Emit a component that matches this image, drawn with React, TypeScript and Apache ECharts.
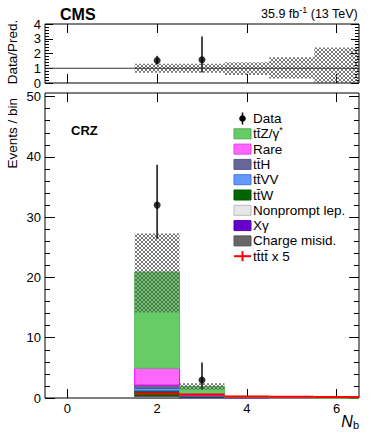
import React, { useEffect, useRef } from "react";
import * as echarts from "echarts";

// ---------- data ----------
const bins = [0, 1, 2, 3, 4, 5, 6];
const chargeMisid = [0, 0, 0.1, 0.01, 0, 0, 0];
const xGamma = [0, 0, 0.05, 0.01, 0, 0, 0];
const nonprompt = [0, 0, 0.15, 0.05, 0.01, 0, 0];
const ttW = [0, 0, 0.9, 0.15, 0.02, 0, 0];
const ttVV = [0, 0, 0.4, 0.08, 0.01, 0, 0];
const ttH = [0, 0, 0.55, 0.1, 0.01, 0, 0];
const rare = [0, 0, 2.8, 0.25, 0.03, 0.01, 0];
const ttZ = [0, 0, 15.95, 1.25, 0.09, 0.02, 0.01];

const uncLo = [null, null, 14.2, 1.35, 0.09, 0.01, 0];
const uncHi = [null, null, 27.3, 2.45, 0.24, 0.05, 0.02];

const tttt5 = [null, null, 0.6, 0.4, 0.1, 0.03, 0.01];

const dataX = [2, 3];
const dataY = [32, 3];
const dataLo = [26.4, 1.4];
const dataHi = [38.7, 5.9];

const ratioY = [1.52, 1.58];
const ratioLo = [1.25, 0.72];
const ratioHi = [1.84, 3.15];
const ratioBandLo = [null, null, 0.7, 0.7, 0.55, 0.3, 0];
const ratioBandHi = [null, null, 1.3, 1.3, 1.4, 1.75, 2.4];

const xTicks = [0, 2, 4, 6];
const mainYMajor = [0, 10, 20, 30, 40, 50];
const mainYMinor = [2, 4, 6, 8, 12, 14, 16, 18, 22, 24, 26, 28, 32, 34, 36, 38, 42, 44, 46, 48];
const ratioYMajor = [0, 1, 2, 3, 4];
const ratioYMinor = [0.2, 0.4, 0.6, 0.8, 1.2, 1.4, 1.6, 1.8, 2.2, 2.4, 2.6, 2.8, 3.2, 3.4, 3.6, 3.8];

const X_MIN = -0.5;
const X_MAX = 6.5;
const MAIN_Y_MAX = 50.6;
const RATIO_Y_MAX = 4;

const FONT = "'Liberation Sans', Arial, Helvetica, sans-serif";

const stackDefs = [
  { name: "Charge misid.", values: chargeMisid, fill: "#666666", stroke: "#555555" },
  { name: "Xγ", values: xGamma, fill: "#6600cc", stroke: "#5500aa" },
  { name: "Nonprompt lep.", values: nonprompt, fill: "#e6e6e6", stroke: "#bbbbbb" },
  { name: "tt̄W", values: ttW, fill: "#006600", stroke: "#005500" },
  { name: "tt̄VV", values: ttVV, fill: "#6699ff", stroke: "#3366ff" },
  { name: "tt̄H", values: ttH, fill: "#666699", stroke: "#555588" },
  { name: "Rare", values: rare, fill: "#ff66ff", stroke: "#ff00ff" },
  { name: "tt̄Z/γ*", values: ttZ, fill: "#66cc66", stroke: "#55bb55" },
];

const legendRows = [
  { label: "Data", kind: "data" },
  { label: "{m|tt̄Z/γ}{s|*}", kind: "box", fill: "#66cc66", stroke: "#55aa55" },
  { label: "Rare", kind: "box", fill: "#ff66ff", stroke: "#dd44dd" },
  { label: "tt̄H", kind: "box", fill: "#666699", stroke: "#555588" },
  { label: "tt̄VV", kind: "box", fill: "#6699ff", stroke: "#4477dd" },
  { label: "tt̄W", kind: "box", fill: "#006600", stroke: "#005500" },
  { label: "Nonprompt lep.", kind: "box", fill: "#e6e6e6", stroke: "#bbbbbb" },
  { label: "Xγ", kind: "box", fill: "#6600cc", stroke: "#5500aa" },
  { label: "Charge misid.", kind: "box", fill: "#666666", stroke: "#555555" },
  { label: "tt̄tt̄ x 5", kind: "line" },
];

function makeHatch() {
  const c = document.createElement("canvas");
  c.width = 4;
  c.height = 4;
  const ctx = c.getContext("2d");
  if (ctx) {
    ctx.fillStyle = "rgba(85,85,85,0.8)";
    for (let i = 0; i < 4; i++) {
      ctx.fillRect(i, i, 1, 1);
      ctx.fillRect(3 - i, i, 1, 1);
    }
  }
  return { image: c, repeat: "repeat", imageWidth: 4, imageHeight: 4 } as any;
}

function measure(text: string, size: number) {
  const c = document.createElement("canvas");
  const ctx = c.getContext("2d");
  if (!ctx) return text.length * size * 0.55;
  ctx.font = `${size}px ${FONT}`;
  return ctx.measureText(text).width;
}

function rectItem(fill: any, stroke: any, lineWidth = 1) {
  return (params: any, api: any) => {
    const x = api.value(0);
    const y0 = api.value(1);
    const y1 = api.value(2);
    const p0 = api.coord([x - 0.5, y0]);
    const p1 = api.coord([x + 0.5, y1]);
    return {
      type: "rect",
      shape: { x: p0[0], y: p1[1], width: p1[0] - p0[0], height: p0[1] - p1[1] },
      style: { fill, stroke, lineWidth },
    };
  };
}

function errItem(color: string, width: number) {
  return (params: any, api: any) => {
    const x = api.value(0);
    const a = api.coord([x, api.value(1)]);
    const b = api.coord([x, api.value(2)]);
    return {
      type: "line",
      shape: { x1: a[0], y1: a[1], x2: b[0], y2: b[1] },
      style: { stroke: color, lineWidth: width },
    };
  };
}

function xAxisDef(gridIndex: number, position: string, labels: boolean) {
  return {
    type: "value",
    gridIndex,
    position,
    min: X_MIN,
    max: X_MAX,
    axisLine: { show: false, onZero: false },
    splitLine: { show: false },
    axisTick: {
      show: true,
      inside: true,
      length: 9,
      customValues: xTicks,
      lineStyle: { color: "#000", width: 1 },
    },
    axisLabel: labels
      ? {
          show: true,
          customValues: xTicks,
          fontFamily: FONT,
          fontSize: 13,
          color: "#000",
          margin: 4,
        }
      : { show: false },
  };
}

function yAxisDef(
  gridIndex: number,
  position: string,
  max: number,
  ticks: number[],
  len: number,
  labels: boolean
) {
  return {
    type: "value",
    gridIndex,
    position,
    min: 0,
    max,
    axisLine: { show: false, onZero: false },
    splitLine: { show: false },
    axisTick: {
      show: true,
      inside: true,
      length: len,
      customValues: ticks,
      lineStyle: { color: "#000", width: 1 },
    },
    axisLabel: labels
      ? {
          show: true,
          customValues: ticks,
          fontFamily: FONT,
          fontSize: 13,
          color: "#000",
          margin: 4,
        }
      : { show: false },
  };
}

export default function App() {
  const ref = useRef<HTMLDivElement>(null);

  useEffect(() => {
    if (!ref.current) return;
    const chart = echarts.init(ref.current, null, { renderer: "svg" });
    const hatch = makeHatch();

    // stacked series
    const base = bins.map(() => 0);
    const stackSeries = stackDefs.map((d, k) => {
      const items: number[][] = [];
      bins.forEach((b, i) => {
        const v = d.values[i];
        if (v > 0) items.push([b, base[i], base[i] + v]);
        base[i] += v;
      });
      return {
        type: "custom",
        name: d.name,
        xAxisIndex: 2,
        yAxisIndex: 4,
        z: 2 + k * 0.01,
        renderItem: rectItem(d.fill, d.stroke, 1),
        encode: { x: 0, y: [1, 2] },
        data: items,
      };
    });

    const uncData = bins
      .map((b, i) => [b, uncLo[i], uncHi[i]])
      .filter((d) => d[1] !== null);
    const ratioBandData = bins
      .map((b, i) => [b, ratioBandLo[i], ratioBandHi[i]])
      .filter((d) => d[1] !== null);
    const tttData = bins.map((b, i) => [b, tttt5[i]]).filter((d) => d[1] !== null);

    const graphics: any[] = [];
    graphics.push({
      type: "text",
      x: 60,
      y: 14,
      style: { text: "CMS", fontFamily: FONT, fontSize: 16, fontWeight: "bold", fill: "#000", verticalAlign: "middle" },
    });

    // lumi label, laid out from measured widths
    const HS = 12.5;
    const SS = 9;
    const t3 = " (13 TeV)";
    const t2 = "-1";
    const t1 = "35.9 fb";
    const w3 = measure(t3, HS);
    const w2 = measure(t2, SS);
    const xr = 358;
    const x3 = xr - w3;
    const x2 = x3 - w2;
    graphics.push({
      type: "text",
      x: x3,
      y: 14,
      style: { text: t3, fontFamily: FONT, fontSize: HS, fill: "#000", verticalAlign: "middle" },
    });
    graphics.push({
      type: "text",
      x: x2,
      y: 10,
      style: { text: t2, fontFamily: FONT, fontSize: SS, fill: "#000", verticalAlign: "middle" },
    });
    graphics.push({
      type: "text",
      x: x2,
      y: 14,
      style: { text: t1, fontFamily: FONT, fontSize: HS, fill: "#000", align: "right", verticalAlign: "middle" },
    });

    graphics.push({
      type: "text",
      x: 12,
      y: 52,
      rotation: Math.PI / 2,
      style: { text: "Data/Pred.", fontFamily: FONT, fontSize: 13.5, fill: "#000", align: "center", verticalAlign: "middle" },
    });
    graphics.push({
      type: "text",
      x: 12,
      y: 98,
      rotation: Math.PI / 2,
      style: { text: "Events / bin", fontFamily: FONT, fontSize: 13.5, fill: "#000", align: "right", verticalAlign: "middle" },
    });
    graphics.push({
      type: "text",
      x: 71,
      y: 130,
      style: { text: "CRZ", fontFamily: FONT, fontSize: 13, fontWeight: "bold", fill: "#000", verticalAlign: "middle" },
    });
    const wb = measure("b", 11);
    graphics.push({
      type: "text",
      x: 359 - wb,
      y: 421,
      style: { text: "N", fontFamily: FONT, fontSize: 16, fontStyle: "italic", fill: "#000", align: "right", verticalAlign: "middle" },
    });
    graphics.push({
      type: "text",
      x: 359 - wb,
      y: 425,
      style: { text: "b", fontFamily: FONT, fontSize: 11, fill: "#000", verticalAlign: "middle" },
    });

    // legend
    const LX = 234;
    const LW = 17;
    const LY0 = 118.5;
    const LDY = 15.3;
    legendRows.forEach((r: any, i) => {
      const cy = LY0 + i * LDY;
      if (r.kind === "box") {
        graphics.push({
          type: "rect",
          shape: { x: LX, y: cy - 5, width: LW, height: 10 },
          style: { fill: r.fill, stroke: r.stroke, lineWidth: 1 },
        });
      } else if (r.kind === "data") {
        graphics.push({
          type: "line",
          shape: { x1: LX + LW / 2, y1: cy - 6, x2: LX + LW / 2, y2: cy + 6 },
          style: { stroke: "#000", lineWidth: 1.5 },
        });
        graphics.push({
          type: "circle",
          shape: { cx: LX + LW / 2, cy, r: 3.3 },
          style: { fill: "#000" },
        });
      } else {
        graphics.push({
          type: "line",
          shape: { x1: LX, y1: cy, x2: LX + LW, y2: cy },
          style: { stroke: "#ff0000", lineWidth: 2 },
        });
        graphics.push({
          type: "line",
          shape: { x1: LX + LW / 2, y1: cy - 5, x2: LX + LW / 2, y2: cy + 5 },
          style: { stroke: "#ff0000", lineWidth: 2 },
        });
      }
      graphics.push({
        type: "text",
        x: 253,
        y: cy,
        style: {
          text: r.label,
          fontFamily: FONT,
          fontSize: 13.5,
          fill: "#000",
          verticalAlign: "middle",
          rich: {
            m: { fontFamily: FONT, fontSize: 13.5, lineHeight: 16, fill: "#000" },
            s: { fontFamily: FONT, fontSize: 9, lineHeight: 9, verticalAlign: "top", fill: "#000" },
          },
        },
      });
    });

    const option: any = {
      animation: false,
      backgroundColor: "#fff",
      grid: [
        { left: 45, top: 24, width: 314, height: 59, show: true, borderColor: "#000", borderWidth: 1, backgroundColor: "transparent", containLabel: false, outerBoundsMode: "none" },
        { left: 45, top: 93, width: 314, height: 305, show: true, borderColor: "#000", borderWidth: 1, backgroundColor: "transparent", containLabel: false, outerBoundsMode: "none" },
      ],
      xAxis: [
        xAxisDef(0, "bottom", false),
        xAxisDef(0, "top", false),
        xAxisDef(1, "bottom", true),
        xAxisDef(1, "top", false),
      ],
      yAxis: [
        yAxisDef(0, "left", RATIO_Y_MAX, ratioYMajor, 8, true),
        yAxisDef(0, "left", RATIO_Y_MAX, ratioYMinor, 4, false),
        yAxisDef(0, "right", RATIO_Y_MAX, ratioYMajor, 8, false),
        yAxisDef(0, "right", RATIO_Y_MAX, ratioYMinor, 4, false),
        yAxisDef(1, "left", MAIN_Y_MAX, mainYMajor, 10, true),
        yAxisDef(1, "left", MAIN_Y_MAX, mainYMinor, 5, false),
        yAxisDef(1, "right", MAIN_Y_MAX, mainYMajor, 10, false),
        yAxisDef(1, "right", MAIN_Y_MAX, mainYMinor, 5, false),
      ],
      series: [
        // ratio panel
        {
          type: "custom",
          xAxisIndex: 0,
          yAxisIndex: 0,
          z: 2,
          renderItem: rectItem(hatch, "none", 0),
          encode: { x: 0, y: [1, 2] },
          data: ratioBandData,
        },
        {
          type: "line",
          xAxisIndex: 0,
          yAxisIndex: 0,
          z: 3,
          symbol: "none",
          lineStyle: { color: "#333", width: 1 },
          data: [
            [X_MIN, 1],
            [X_MAX, 1],
          ],
        },
        {
          type: "custom",
          xAxisIndex: 0,
          yAxisIndex: 0,
          z: 4,
          renderItem: errItem("#333", 1.8),
          encode: { x: 0, y: [1, 2] },
          data: dataX.map((x, i) => [x, ratioLo[i], ratioHi[i]]),
        },
        {
          type: "scatter",
          xAxisIndex: 0,
          yAxisIndex: 0,
          z: 5,
          symbol: "circle",
          symbolSize: 7,
          itemStyle: { color: "#000" },
          data: dataX.map((x, i) => [x, ratioY[i]]),
        },
        // main panel
        ...stackSeries,
        {
          type: "custom",
          xAxisIndex: 2,
          yAxisIndex: 4,
          z: 3,
          renderItem: rectItem(hatch, "none", 0),
          encode: { x: 0, y: [1, 2] },
          data: uncData,
        },
        {
          type: "custom",
          xAxisIndex: 2,
          yAxisIndex: 4,
          z: 4,
          renderItem: (params: any, api: any) => {
            const x = api.value(0);
            const v = api.value(1);
            const a = api.coord([x - 0.5, v]);
            const b = api.coord([x + 0.5, v]);
            return {
              type: "line",
              shape: { x1: a[0], y1: a[1] - 1, x2: b[0], y2: b[1] - 1 },
              style: { stroke: "#ff0000", lineWidth: 2 },
            };
          },
          encode: { x: 0, y: 1 },
          data: tttData,
        },
        {
          type: "custom",
          xAxisIndex: 2,
          yAxisIndex: 4,
          z: 5,
          renderItem: errItem("#333", 1.8),
          encode: { x: 0, y: [1, 2] },
          data: dataX.map((x, i) => [x, dataLo[i], dataHi[i]]),
        },
        {
          type: "scatter",
          xAxisIndex: 2,
          yAxisIndex: 4,
          z: 6,
          symbol: "circle",
          symbolSize: 7,
          itemStyle: { color: "#000" },
          data: dataX.map((x, i) => [x, dataY[i]]),
        },
      ],
      graphic: graphics,
    };

    chart.setOption(option);
    return () => chart.dispose();
  }, []);

  return (
    <div
      ref={ref}
      style={{ position: "fixed", left: 0, top: 0, width: 374, height: 436, background: "#fff" }}
    />
  );
}
